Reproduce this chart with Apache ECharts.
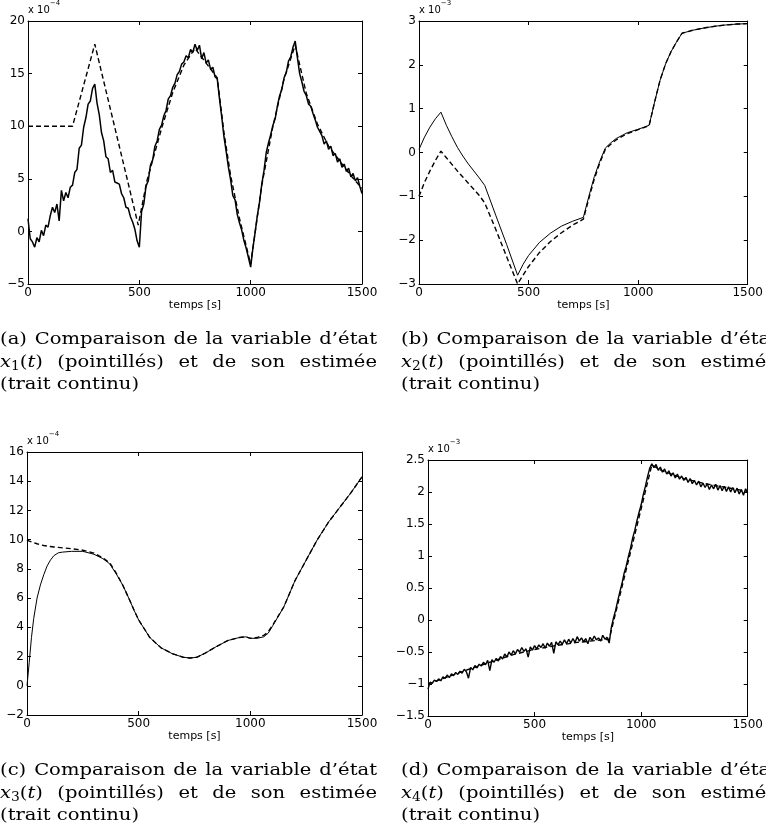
<!DOCTYPE html>
<html lang="fr">
<head>
<meta charset="UTF-8">
<title>Comparaison des variables d'état</title>
<style>
  html, body { margin: 0; padding: 0; background: #fff; }
  #chart { width: 766px; height: 838px; }
</style>
</head>
<body>
<div id="chart"></div>
<script src="https://cdn.jsdelivr.net/npm/echarts/dist/echarts.min.js"></script>
<script>
// ---- data ----
// noisy estimates are sampled every 10 s from 0 to 1500 s
var sampleStep = 10;

// (a) x1 estimate, x 10^-4
var x1Est = [
  1.2, -0.7, -1.0, -1.5, -0.6, -1.0, 0.1, -0.4, 0.6, 0.4,
  1.5, 2.3, 1.8, 2.6, 1.0, 3.9, 2.9, 3.7, 3.2, 4.2,
  4.4, 5.6, 5.9, 7.9, 8.2, 9.9, 10.8, 12.1, 12.4, 13.6,
  14.0, 12.2, 11.1, 9.4, 8.6, 7.1, 6.9, 5.6, 5.8, 4.7,
  4.6, 4.5, 3.6, 3.2, 2.3, 2.2, 1.4, 0.9, 0.2, -0.9,
  -1.5, 1.9, 2.6, 4.3, 4.8, 6.3, 6.8, 8.1, 8.6, 9.7,
  10.1, 11.0, 11.5, 12.6, 12.9, 13.7, 14.1, 14.9, 15.2, 15.9,
  16.1, 16.7, 16.5, 17.3, 17.0, 17.8, 17.2, 17.7, 16.4, 17.0,
  16.0, 16.3, 15.4, 15.6, 14.7, 14.5, 12.6, 10.9, 9.0, 7.6,
  6.1, 4.9, 3.4, 3.0, 1.6, 0.8, 0.1, -0.9, -1.6, -2.5,
  -3.4, -1.6, -0.1, 1.5, 2.8, 4.5, 5.8, 7.5, 8.4, 9.2,
  10.1, 10.7, 11.9, 12.9, 13.5, 14.6, 15.1, 16.2, 16.6, 17.5,
  18.1, 16.5, 15.0, 14.2, 13.3, 12.9, 12.1, 11.9, 11.2, 10.6,
  9.9, 9.5, 9.1, 8.3, 8.6, 7.8, 8.1, 7.2, 7.4, 6.6,
  6.9, 6.1, 6.4, 5.7, 6.0, 5.2, 5.5, 4.8, 5.1, 4.3,
  3.6
];
// (a) x1 true state (dashed)
var x1TrueT = [0, 200, 300, 495, 534, 600, 650, 700, 750, 800, 850, 880, 910, 950, 1000, 1050, 1100, 1150, 1200, 1250, 1300, 1350, 1400, 1450, 1500];
var x1TrueV = [10, 10, 17.8, 0.6, 4.8, 9.8, 13.2, 15.8, 17.4, 16.0, 14.6, 9.4, 5.3, 1.2, -3.1, 4.4, 10.0, 14.5, 17.7, 13.1, 10.2, 8.1, 6.7, 5.3, 4.1];

// (b) x2, x 10^-3
var x2T = [0, 25, 50, 75, 100, 125, 150, 175, 200, 225, 250, 275, 300, 350, 400, 450, 475, 500, 550, 600, 650, 700, 750, 775, 800, 825, 850, 875, 900, 950, 1000, 1050, 1075, 1100, 1125, 1150, 1175, 1200, 1250, 1300, 1350, 1400, 1450, 1500];
var x2Est = [0.07, 0.35, 0.58, 0.77, 0.92, 0.62, 0.36, 0.12, -0.08, -0.26, -0.42, -0.58, -0.75, -1.43, -2.1, -2.8, -2.55, -2.35, -2.05, -1.84, -1.68, -1.57, -1.48, -1.0, -0.55, -0.2, 0.1, 0.22, 0.32, 0.45, 0.53, 0.62, 1.15, 1.65, 2.02, 2.3, 2.52, 2.72, 2.79, 2.84, 2.88, 2.91, 2.93, 2.94];
var x2True = [-1.0, -0.68, -0.42, -0.18, 0.03, -0.12, -0.27, -0.42, -0.56, -0.7, -0.84, -0.98, -1.15, -1.75, -2.38, -3.0, -2.8, -2.6, -2.28, -2.03, -1.83, -1.66, -1.52, -1.05, -0.6, -0.24, 0.07, 0.19, 0.29, 0.43, 0.52, 0.61, 1.15, 1.65, 2.02, 2.3, 2.52, 2.72, 2.79, 2.84, 2.88, 2.91, 2.93, 2.94];

// (c) x3, x 10^-4
var x3T = [0, 10, 20, 30, 45, 60, 75, 90, 105, 120, 140, 160, 200, 250, 300, 340, 370, 400, 430, 460, 480, 500, 550, 600, 650, 700, 730, 760, 800, 850, 900, 950, 980, 1000, 1030, 1060, 1080, 1100, 1150, 1200, 1250, 1300, 1350, 1400, 1450, 1500];
var x3Est = [0, 1.6, 3.3, 4.6, 6.0, 6.9, 7.6, 8.2, 8.6, 8.9, 9.1, 9.15, 9.2, 9.2, 9.0, 8.7, 8.35, 7.65, 6.85, 5.85, 5.15, 4.5, 3.3, 2.6, 2.2, 1.95, 1.9, 1.95, 2.25, 2.7, 3.1, 3.3, 3.35, 3.25, 3.25, 3.35, 3.6, 4.1, 5.4, 7.2, 8.6, 10.0, 11.2, 12.2, 13.2, 14.3];
var x3True = [10.0, 9.9, 9.85, 9.8, 9.72, 9.65, 9.6, 9.56, 9.53, 9.5, 9.47, 9.44, 9.38, 9.28, 9.08, 8.75, 8.42, 7.7, 6.85, 5.85, 5.15, 4.5, 3.3, 2.6, 2.2, 1.95, 1.9, 1.95, 2.25, 2.7, 3.1, 3.3, 3.35, 3.25, 3.3, 3.45, 3.7, 4.15, 5.4, 7.2, 8.6, 10.0, 11.2, 12.2, 13.2, 14.3];

// (d) x4 estimate, x 10^-3
var x4Est = [
  -1.08, -0.97, -0.99, -0.94, -0.96, -0.92, -0.95, -0.89, -0.91, -0.86,
  -0.90, -0.84, -0.87, -0.82, -0.85, -0.80, -0.83, -0.77, -0.81, -0.91,
  -0.74, -0.78, -0.71, -0.75, -0.69, -0.72, -0.66, -0.70, -0.63, -0.79,
  -0.62, -0.66, -0.60, -0.64, -0.57, -0.61, -0.53, -0.58, -0.50, -0.55,
  -0.48, -0.53, -0.46, -0.50, -0.43, -0.49, -0.45, -0.58, -0.42, -0.47,
  -0.40, -0.45, -0.39, -0.43, -0.37, -0.44, -0.36, -0.41, -0.35, -0.52,
  -0.34, -0.39, -0.33, -0.38, -0.31, -0.37, -0.30, -0.36, -0.29, -0.35,
  -0.26, -0.33, -0.28, -0.34, -0.29, -0.37, -0.27, -0.32, -0.25, -0.31,
  -0.28, -0.33, -0.24, -0.30, -0.27, -0.36, -0.12, 0.03, 0.15, 0.30,
  0.44, 0.57, 0.73, 0.84, 0.99, 1.12, 1.28, 1.40, 1.55, 1.68,
  1.80, 1.96, 2.09, 2.24, 2.37, 2.44, 2.38, 2.43, 2.34, 2.39,
  2.31, 2.36, 2.28, 2.33, 2.25, 2.30, 2.22, 2.28, 2.20, 2.25,
  2.18, 2.23, 2.15, 2.21, 2.13, 2.18, 2.11, 2.17, 2.08, 2.14,
  2.07, 2.13, 2.04, 2.11, 2.05, 2.12, 2.03, 2.10, 2.02, 2.09,
  2.01, 2.08, 2.00, 2.07, 1.99, 2.06, 1.97, 2.04, 1.95, 2.05,
  1.98
];
var x4TrueT = [0, 100, 200, 300, 400, 500, 600, 700, 850, 1050, 1100, 1200, 1300, 1400, 1500];
var x4TrueV = [-1.0, -0.88, -0.76, -0.65, -0.54, -0.46, -0.40, -0.35, -0.30, 2.42, 2.33, 2.21, 2.13, 2.07, 2.01];

// axis scales: [min, max, interval, exponent]
var yScales = [[-5, 20, 5, '\u22124'], [-3, 3, 1, '\u22123'], [-2, 16, 2, '\u22124'], [-1.5, 2.5, 0.5, '\u22123']];
var xTicks = [0, 1500, 500];
var xLabel = 'temps [s]';

// ---- helpers ----
function pairs(t, v) {
  var out = [];
  for (var i = 0; i < v.length; i++) out.push([t[i], v[i]]);
  return out;
}
function sampled(v) {
  var out = [];
  for (var i = 0; i < v.length; i++) out.push([i * sampleStep, v[i]]);
  return out;
}
function minus(v) { return String(v).replace('-', '\u2212'); }

var axFont = 'DejaVu Sans';
var grids = [
  {left: 28, top: 21, width: 334, height: 263},
  {left: 419, top: 21, width: 335, height: 263},
  {left: 27, top: 452, width: 335, height: 263},
  {left: 428, top: 460, width: 326, height: 256}
];

var xAxes = [], yAxes = [];
grids.forEach(function (g, i) {
  var ys = yScales[i];
  var common = {
    type: 'value', gridIndex: i,
    axisLine: {show: true, onZero: false, lineStyle: {color: '#000', width: 1}},
    axisTick: {show: true, inside: true, length: 4, lineStyle: {color: '#000'}},
    splitLine: {show: false}
  };
  xAxes.push(Object.assign({}, common, {
    position: 'bottom', min: xTicks[0], max: xTicks[1], interval: xTicks[2],
    axisLabel: {color: '#000', fontFamily: axFont, fontSize: 12, margin: 3, formatter: minus},
    name: xLabel, nameLocation: 'middle', nameGap: 14,
    nameTextStyle: {color: '#000', fontFamily: axFont, fontSize: 11}
  }));
  xAxes.push(Object.assign({}, common, {
    position: 'top', min: xTicks[0], max: xTicks[1], interval: xTicks[2],
    axisLabel: {show: false}
  }));
  yAxes.push(Object.assign({}, common, {
    position: 'left', min: ys[0], max: ys[1], interval: ys[2],
    axisLabel: {color: '#000', fontFamily: axFont, fontSize: 12, margin: 3, formatter: minus},
    name: '{m|x 10}{e|' + ys[3] + '}', nameLocation: 'end', nameGap: 2,
    nameTextStyle: {
      align: 'left', verticalAlign: 'bottom',
      rich: {
        m: {fontFamily: axFont, fontSize: 10, color: '#000', lineHeight: 15, verticalAlign: 'bottom'},
        e: {fontFamily: axFont, fontSize: 7, color: '#000', lineHeight: 15, verticalAlign: 'top'}
      }
    }
  }));
  yAxes.push(Object.assign({}, common, {
    position: 'right', min: ys[0], max: ys[1], interval: ys[2],
    axisLabel: {show: false}
  }));
});

function line(i, data, dashed, width) {
  return {
    type: 'line', xAxisIndex: 2 * i, yAxisIndex: 2 * i, data: data,
    showSymbol: false, symbol: 'none', animation: false, silent: true,
    lineStyle: {color: '#000', width: width, type: dashed ? [5, 3] : 'solid'}
  };
}

var series = [
  line(0, pairs(x1TrueT, x1TrueV), true, 1.4),
  line(0, sampled(x1Est), false, 1.5),
  line(1, pairs(x2T, x2True), true, 1.4),
  line(1, pairs(x2T, x2Est), false, 1),
  line(2, pairs(x3T, x3True), true, 1.4),
  line(2, pairs(x3T, x3Est), false, 1),
  line(3, pairs(x4TrueT, x4TrueV), true, 1.4),
  line(3, sampled(x4Est), false, 1.4)
];

// ---- captions (justified like the LaTeX subcaptions, set a bit wide) ----
var capFamily = 'DejaVu Serif';
var capSize = 17, subSize = 12, capW = 377, capStretch = 1.15;
var mctx = document.createElement('canvas').getContext('2d');
function tw(s, size, italic) {
  mctx.font = (italic ? 'italic ' : '') + size + 'px "' + capFamily + '"';
  return mctx.measureText(s).width * capStretch;
}
// a word is a list of pieces [text, size, italic, dy]
function plainWord(s) { return [[s, capSize, false, 0]]; }
function mathWord(k) {
  return [['x', capSize, true, 0], [k, subSize, false, 4], ['(', capSize, false, 0], ['t', capSize, true, 0], [')', capSize, false, 0]];
}
function wordWidth(w) {
  var s = 0;
  w.forEach(function (p) { s += tw(p[0], p[1], p[2]); });
  return s;
}
var graphics = [];
function putWords(words, x0, y, justify) {
  var total = 0;
  words.forEach(function (w) { total += wordWidth(w); });
  var gap = justify && words.length > 1 ? (capW - total) / (words.length - 1) : tw(' ', capSize);
  var x = x0;
  words.forEach(function (w) {
    w.forEach(function (p) {
      graphics.push({
        type: 'text', x: x, y: y + p[3], scaleX: capStretch, silent: true,
        style: {
          text: p[0], fontFamily: capFamily, fontSize: p[1], fontStyle: p[2] ? 'italic' : 'normal',
          verticalAlign: 'middle', align: 'left', fill: '#000'
        }
      });
      x += tw(p[0], p[1], p[2]);
    });
    x += gap;
  });
}
var captions = [
  {tag: 'a', k: '1', x: 0, y: 340},
  {tag: 'b', k: '2', x: 401, y: 340},
  {tag: 'c', k: '3', x: 0, y: 771},
  {tag: 'd', k: '4', x: 401, y: 771}
];
captions.forEach(function (c) {
  putWords(['(' + c.tag + ')', 'Comparaison', 'de', 'la', 'variable', 'd\u2019\u00e9tat'].map(plainWord), c.x, c.y, true);
  putWords([mathWord(c.k)].concat(['(pointill\u00e9s)', 'et', 'de', 'son', 'estim\u00e9e'].map(plainWord)), c.x, c.y + 23, true);
  putWords(['(trait', 'continu)'].map(plainWord), c.x, c.y + 45, false);
});

var chart = echarts.init(document.getElementById('chart'));
chart.setOption({
  animation: false,
  backgroundColor: '#fff',
  grid: grids.map(function (g) { return Object.assign({containLabel: false, show: false}, g); }),
  xAxis: xAxes,
  yAxis: yAxes,
  series: series,
  graphic: graphics
});
</script>
</body>
</html>
